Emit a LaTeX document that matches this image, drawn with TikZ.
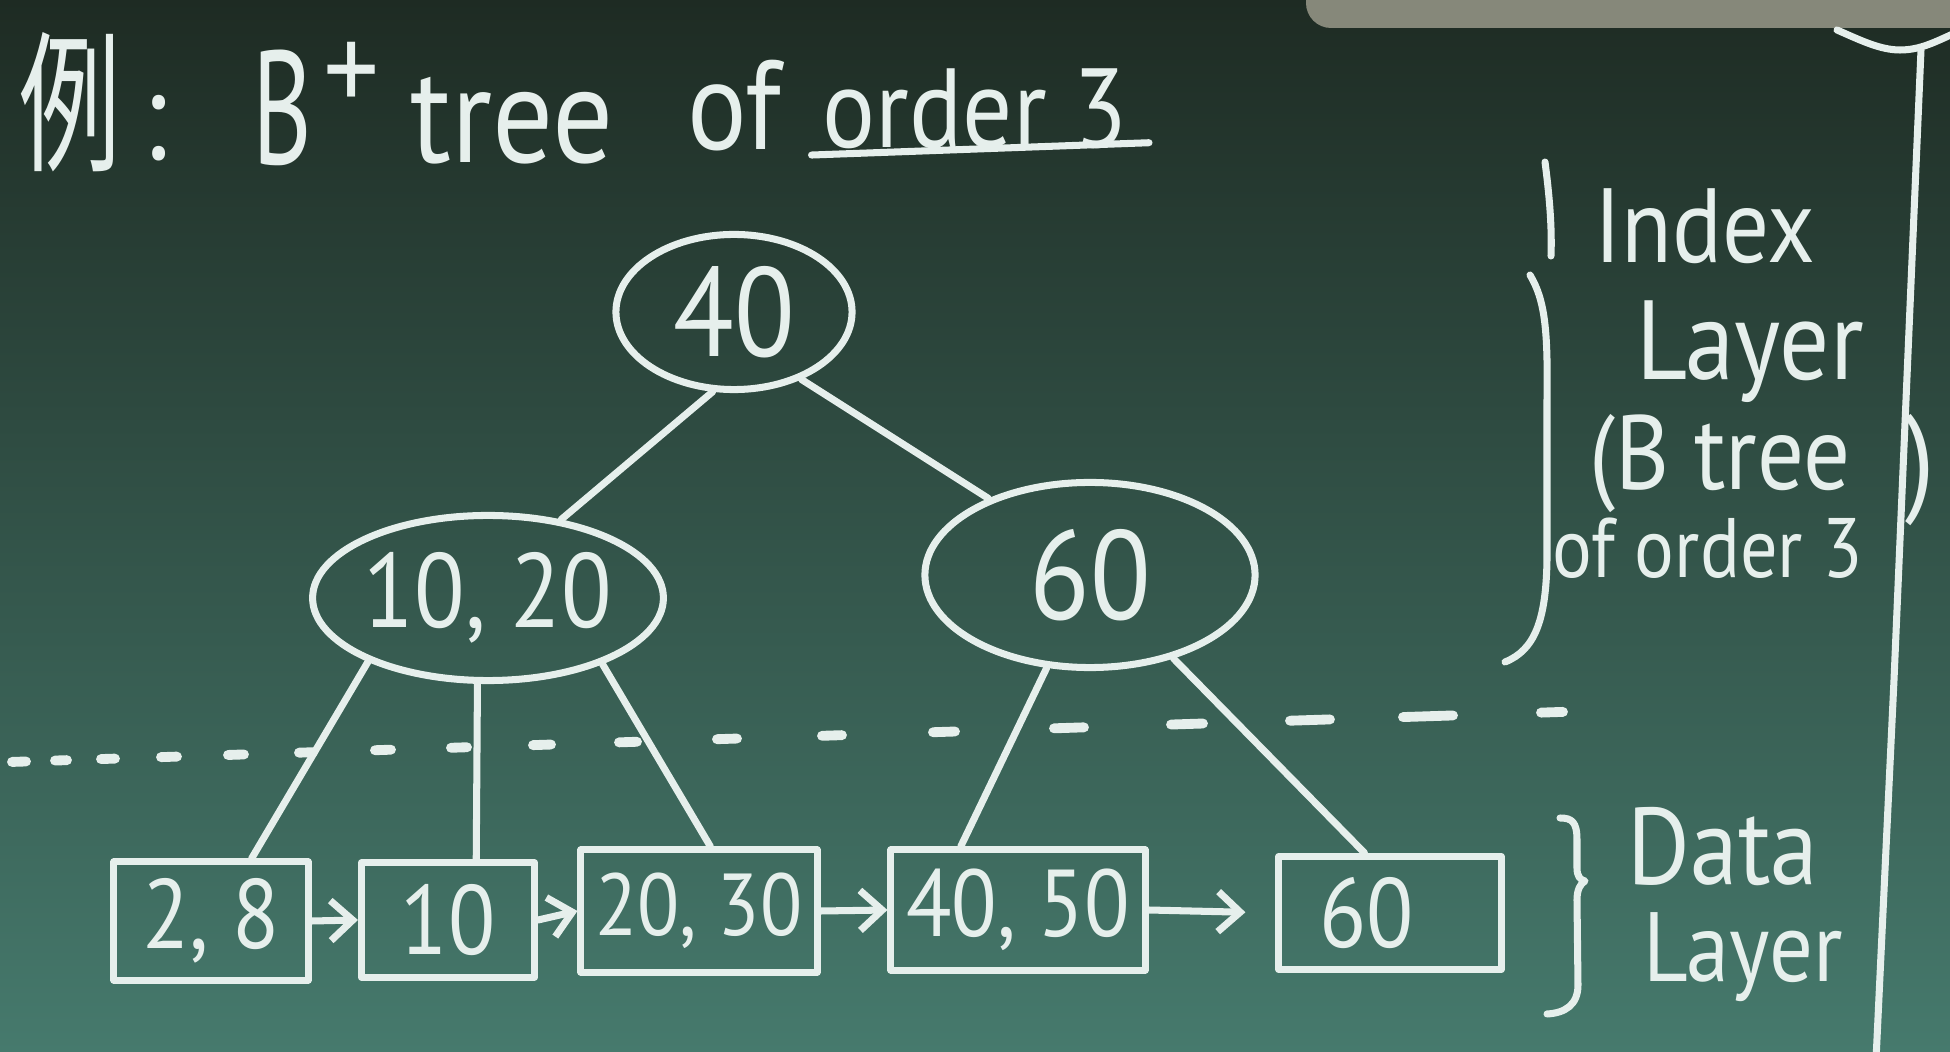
\documentclass[tikz,border=0pt]{standalone}
\usepackage{fontspec}
\newfontfamily\hand[FakeStretch=0.88]{PT Sans}
\newfontfamily\cjk{Noto Sans CJK TC}
\newcommand\hsz[1]{\hand\fontsize{#1}{#1}\selectfont}
\usetikzlibrary{shapes.geometric,arrows.meta,calc}
\definecolor{chalk}{HTML}{E6EFEC}
\definecolor{bgtop}{HTML}{1E2B23}
\definecolor{bgmid}{HTML}{2E5647}
\definecolor{bgbot}{HTML}{467A6D}
\definecolor{tray}{HTML}{86887A}
\tikzset{
  stroke/.style={draw=chalk, line width=2pt, line cap=round, line join=round},
  bnode/.style={ellipse, stroke, inner sep=0pt, text=chalk},
  leaf/.style={rectangle, stroke, inner sep=0pt, text=chalk, font=\hsz{27}},
  link/.style={stroke},
  nextarrow/.style={stroke, -{Straight Barb[length=2.2mm,width=4mm]}},
  lbl/.style={text=chalk, inner sep=0pt, anchor=base},
  dots/.style={stroke, line width=2.8pt},
}
\begin{document}
\begin{tikzpicture}[x=0.01cm,y=-0.01cm]
\shade[top color=bgtop, middle color=bgmid, bottom color=bgbot] (0,0) rectangle (1950,1052);
\useasboundingbox (0,0) rectangle (1950,1052);
% board tray at top right
\fill[tray, rounded corners=0.25cm] (1306,-40) rectangle (2000,28);

% title
\node[text=chalk, inner sep=0pt, anchor=west, font=\hsz{36}] (ex) at (19,102) {\scalebox{0.8}[1.2]{\cjk 例}\kern6pt:};
\node[lbl, anchor=base west, font=\hsz{46}] (tb) at (252,165) {\scalebox{0.72}[1]{B}\kern3pt\raisebox{15pt}{\hsz{36}+}};
\node[lbl, font=\hsz{39}] (tt) at (512,163) {tree};
\node[lbl, font=\hsz{36}] (tof) at (734,150) {of};
\node[lbl, font=\hsz{32}] (tord) at (975,148) {order 3};
\draw[stroke] ([xshift=-3pt,yshift=-2pt]tord.base west) -- ([xshift=6pt,yshift=1.5pt]tord.base east);

% index nodes
\node[bnode, minimum width=2.36cm, minimum height=1.55cm, font=\hsz{36}] (root) at (734,312) {40};
\node[bnode, minimum width=3.38cm, minimum height=1.65cm, font=\hsz{30}] (n1) at (488,598) {10, 20};
\node[bnode, minimum width=3.30cm, minimum height=1.85cm, font=\hsz{36}] (n2) at (1090,575) {60};

% data nodes
\node[leaf, minimum width=1.94cm, minimum height=1.18cm, font=\hsz{28}] (b1) at (211,921) {2, 8};
\node[leaf, minimum width=1.73cm, minimum height=1.14cm, font=\hsz{28}] (b2) at (448,920) {10};
\node[leaf, minimum width=2.36cm, minimum height=1.22cm, font=\hsz{25}] (b3) at (699,911) {20, 30};
\node[leaf, minimum width=2.54cm, minimum height=1.20cm, font=\hsz{27}] (b4) at (1018,910) {40, 50};
\node[leaf, minimum width=2.22cm, minimum height=1.13cm, font=\hsz{28}] (b5) at (1390,913) {60\kern0.46cm\relax};

% tree links
\draw[link] (root.255) -- (n1.47);
\draw[link] (root.-45) -- (n2.143);
\draw[link] (n1.208) -- (b1.57);
\draw[link] (n1.263) -- (b2.65);
\draw[link] (n1.-30) -- (b3.80);
\draw[link] (n2.245) -- (b4.132);
\draw[link] (n2.-45) -- (b5.113);

% leaf chain
\draw[nextarrow] (b1.east) -- (b2.west);
\draw[nextarrow] (b2.east) -- (b3.west);
\draw[nextarrow] (b3.east) -- (b4.west);
\draw[nextarrow, shorten >=0.3cm] (b4.east) -- (b5.west);

% separator between layers
\foreach \x/\l in {19/14,61/12,108/14,169/16,236/16,306/14,383/16,459/16,542/18,628/18,727/20,832/20,944/22,1069/30,1187/32,1310/40,1428/50,1552/22}{
  \draw[dots] ({\x-\l/2},{762-(\x-\l/2-10)*0.03226}) -- ({\x+\l/2},{762-(\x+\l/2-10)*0.03226});
}

% index layer brace and label
\draw[stroke] (1545,162) .. controls (1550,200) and (1552,230) .. (1551,256);
\draw[stroke] (1530,275) .. controls (1545,300) and (1548,330) .. (1547,400) -- (1547,560) .. controls (1546,620) and (1535,650) .. (1505,662);
\node[lbl, font=\hsz{30}] (ix) at (1705,263) {Index};
\node[lbl, font=\hsz{32}] (ly) at (1750,380) {Layer};
\node[lbl, font=\hsz{30}] (bt) at (1720,490) {(B tree};
\node[lbl, font=\hsz{24}] (oo) at (1708,578) {of order 3};
\node[text=chalk, inner sep=0pt, font=\hsz{34}] (cp) at (1920,470) {)};

% data layer brace and label
\draw[stroke] (1560,818) .. controls (1572,818) and (1577,822) .. (1577,840) -- (1577,868) .. controls (1577,876) and (1580,880) .. (1585,881) .. controls (1580,884) and (1577,890) .. (1577,900) -- (1578,985) .. controls (1578,1005) and (1565,1013) .. (1547,1014);
\node[lbl, font=\hsz{31}] (dt) at (1723,885) {Data};
\node[lbl, font=\hsz{28}] (dl) at (1743,982) {Layer};

% board divider at right
\draw[stroke] (1837,30) .. controls (1860,40) and (1880,50) .. (1900,50) .. controls (1920,50) and (1935,42) .. (1955,33);
\draw[stroke] (1921,50) -- (1894,680) -- (1876,1060);
\end{tikzpicture}
\end{document}
